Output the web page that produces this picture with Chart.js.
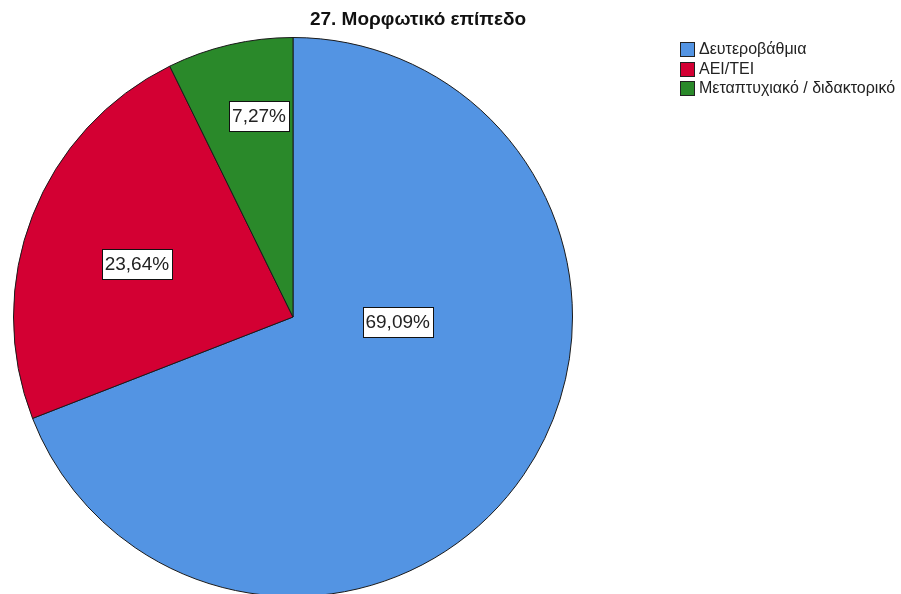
<!DOCTYPE html>
<html>
<head>
<meta charset="utf-8">
<script src="https://cdn.jsdelivr.net/npm/chart.js@4/dist/chart.umd.min.js"></script>
<style>
  html, body { margin: 0; padding: 0; background: #fff; overflow: hidden; }
  #wrap { position: relative; width: 901px; height: 640px; }
</style>
</head>
<body>
<div id="wrap"><canvas id="pie" width="901" height="640"></canvas></div>
<script>
const TITLE = "27. Μορφωτικό επίπεδο";
const categories = ["Δευτεροβάθμια", "ΑΕΙ/ΤΕΙ", "Μεταπτυχιακό / διδακτορικό"];
const percents = [69.09, 23.64, 7.27];
const colors = ["#5394e3", "#d30033", "#2a892a"];

// where each label box sits: shift from mid-angle (deg) and fraction of radius
const labelPlace = [
  { da: -31.7, rf: 0.375 },
  { da: -2.5, rf: 0.59 },
  { da: 3.5, rf: 0.73 },
];

const FONT = '"Liberation Sans", Arial, sans-serif';

const fmtPct = (v) => v.toFixed(2).replace(".", ",") + "%";

const decorPlugin = {
  id: "decor",
  afterDatasetsDraw(chart) {
    const ctx = chart.ctx;
    const meta = chart.getDatasetMeta(0);

    // slice labels
    ctx.save();
    ctx.font = "19px " + FONT;
    ctx.textAlign = "center";
    ctx.textBaseline = "middle";
    meta.data.forEach((arc, i) => {
      const p = arc.getProps(["x", "y", "startAngle", "endAngle", "outerRadius"], true);
      const mid = (p.startAngle + p.endAngle) / 2 + (labelPlace[i].da * Math.PI) / 180;
      const r = p.outerRadius * labelPlace[i].rf;
      const cx = p.x + Math.cos(mid) * r;
      const cy = p.y + Math.sin(mid) * r;
      const txt = fmtPct(percents[i]);
      const w = Math.round(ctx.measureText(txt).width) + 6;
      const h = 30;
      const bx = Math.round(cx - w / 2) + 0.5;
      const by = Math.round(cy - h / 2) + 0.5;
      ctx.fillStyle = "#fff";
      ctx.fillRect(bx, by, w, h);
      ctx.strokeStyle = "#111";
      ctx.lineWidth = 1;
      ctx.strokeRect(bx, by, w, h);
      ctx.fillStyle = "#222";
      ctx.fillText(txt, cx, cy + 1);
    });
    ctx.restore();

    // title
    ctx.save();
    ctx.font = "bold 19px " + FONT;
    ctx.fillStyle = "#111";
    ctx.textAlign = "center";
    ctx.textBaseline = "middle";
    ctx.fillText(TITLE, 418, 20);
    ctx.restore();

    // legend
    ctx.save();
    ctx.font = "16px " + FONT;
    ctx.textBaseline = "middle";
    categories.forEach((c, i) => {
      const y = 49 + i * 19.5;
      ctx.fillStyle = colors[i];
      ctx.fillRect(680.5, Math.round(y - 7) + 0.5, 14, 14);
      ctx.strokeStyle = "#222";
      ctx.lineWidth = 1;
      ctx.strokeRect(680.5, Math.round(y - 7) + 0.5, 14, 14);
      ctx.fillStyle = "#222";
      ctx.fillText(c, 699, y + 1);
    });
    ctx.restore();
  },
};

new Chart(document.getElementById("pie").getContext("2d"), {
  type: "pie",
  data: {
    labels: categories,
    datasets: [
      {
        data: percents,
        backgroundColor: colors,
        borderColor: "#1a1a1a",
        borderWidth: 1,
        hoverOffset: 0,
      },
    ],
  },
  options: {
    responsive: false,
    animation: false,
    events: [],
    layout: { padding: { left: 13, top: 37, right: 901 - 573, bottom: 640 - 597 } },
    plugins: {
      legend: { display: false },
      title: { display: false },
      tooltip: { enabled: false },
    },
  },
  plugins: [decorPlugin],
});
</script>
</body>
</html>
